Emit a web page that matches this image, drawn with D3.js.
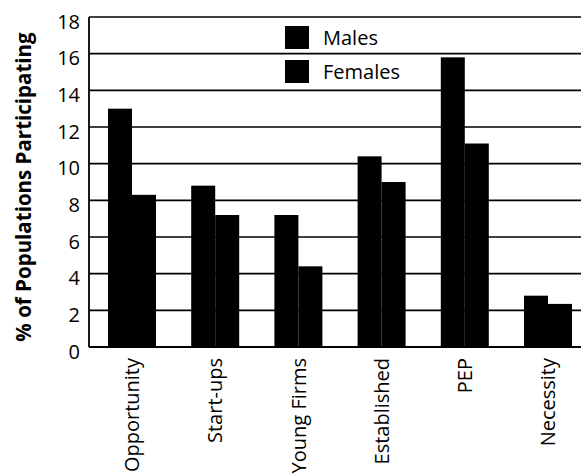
<!DOCTYPE html>
<html>
<head>
<meta charset="utf-8">
<script src="https://cdn.jsdelivr.net/npm/d3@7"></script>
<style>
  html, body { margin: 0; padding: 0; background: #fff; }
  svg { display: block; }
  text { font-family: "Open Sans", "Noto Sans", sans-serif; fill: #000; }
</style>
</head>
<body>
<svg id="chart" width="581" height="474"></svg>
<script>
const categories = ["Opportunity", "Start-ups", "Young Firms", "Established", "PEP", "Necessity"];
const series = ["Males", "Females"];
const males = [13.0, 8.8, 7.2, 10.4, 15.8, 2.8];
const females = [8.3, 7.2, 4.4, 9.0, 11.1, 2.35];
const yTicks = [0, 2, 4, 6, 8, 10, 12, 14, 16, 18];
const colors = ["#000", "#000"];

const svg = d3.select("#chart");
const plotLeft = 89, plotRight = 581, plotTop = 17, plotBottom = 347;

const y = d3.scaleLinear().domain([0, 18]).range([plotBottom, plotTop]);
const x0 = d3.scaleBand().domain(categories).range([108, 572]).paddingInner(0.423).paddingOuter(0);
const x1 = d3.scaleBand().domain(series).range([0, x0.bandwidth()]).padding(0);

// gridlines
svg.append("g").selectAll("line").data(yTicks).join("line")
  .attr("x1", plotLeft).attr("x2", plotRight)
  .attr("y1", d => y(d)).attr("y2", d => y(d))
  .attr("stroke", "#000").attr("stroke-width", 1.6);

// bars
const rows = categories.map((c, i) => ({ c, vals: [males[i], females[i]] }));
const g = svg.append("g").selectAll("g").data(rows).join("g")
  .attr("transform", d => `translate(${x0(d.c)},0)`);
g.selectAll("rect").data(d => d.vals.map((v, k) => ({ s: series[k], v, k }))).join("rect")
  .attr("x", d => x1(d.s)).attr("width", x1.bandwidth())
  .attr("y", d => y(d.v)).attr("height", d => y(0) - y(d.v))
  .attr("fill", d => colors[d.k]);

// axes lines
svg.append("line").attr("x1", plotLeft).attr("x2", plotLeft).attr("y1", plotTop).attr("y2", plotBottom)
  .attr("stroke", "#000").attr("stroke-width", 1.8);
svg.append("line").attr("x1", plotLeft).attr("x2", plotRight).attr("y1", plotBottom).attr("y2", plotBottom)
  .attr("stroke", "#000").attr("stroke-width", 2);

// y tick labels
const yAxis = d3.axisLeft(y).tickValues(yTicks).tickSize(0).tickPadding(9);
const ya = svg.append("g").attr("transform", `translate(${plotLeft},0)`).call(yAxis);
ya.select(".domain").remove();
ya.selectAll("text").attr("font-size", 20).attr("dy", "0.55em")
  .style("font-family", "'Open Sans', sans-serif").attr("fill", "#000");

// x labels rotated
const xAxis = d3.axisBottom(x0).tickSize(0).tickPadding(0);
const xa = svg.append("g").attr("transform", `translate(0,${plotBottom})`).call(xAxis);
xa.select(".domain").remove();
xa.selectAll("text")
  .attr("font-size", 20)
  .style("font-family", "'Open Sans', sans-serif")
  .attr("fill", "#000")
  .attr("text-anchor", "end")
  .attr("transform", "rotate(-90)")
  .attr("x", -11).attr("y", 0).attr("dy", "0.36em");

// y title
svg.append("text")
  .attr("transform", "translate(31,187) rotate(-90)")
  .attr("text-anchor", "middle")
  .attr("font-size", 20.5).attr("font-weight", "bold")
  .text("% of Populations Participating");

// legend
const leg = svg.append("g").selectAll("g").data(series).join("g")
  .attr("transform", (d, i) => `translate(285,${26 + i * 34})`);
leg.append("rect").attr("width", 24).attr("height", 23).attr("fill", (d, i) => colors[i]);
leg.append("text").attr("x", 38).attr("y", 19).attr("font-size", 20).text(d => d);
</script>
</body>
</html>
